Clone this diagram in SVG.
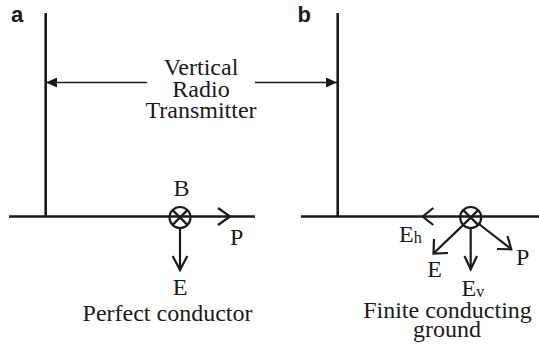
<svg xmlns="http://www.w3.org/2000/svg" width="539" height="347" viewBox="0 0 539 347">
<style>
.bg{fill:#fff}
.thick{stroke:#1a1a1a;stroke-width:2.6;fill:none}
.arr{stroke:#1a1a1a;stroke-width:2.2;fill:none;stroke-linecap:butt;stroke-linejoin:miter}
.thin{stroke:#1a1a1a;stroke-width:1.3;fill:none}
.t{font-family:"Liberation Serif","Times New Roman",serif;font-size:24px;fill:#1a1a1a}
.sub{font-family:"Liberation Serif","Times New Roman",serif;font-size:16px;fill:#1a1a1a}
.lbl{font-family:"Liberation Sans",Arial,sans-serif;font-size:22px;font-weight:bold;fill:#1a1a1a}
</style>
<defs>
<marker id="fa" viewBox="0 0 11 10" refX="11" refY="5" markerWidth="11" markerHeight="10" markerUnits="userSpaceOnUse" orient="auto">
<path d="M0 0 L11 5 L0 10 Z" fill="#1a1a1a"/>
</marker>
</defs>
<rect class="bg" x="0" y="0" width="539" height="347"/>
<g id="panel-a">
<text class="lbl" x="11" y="22">a</text>
<path class="thick" d="M45.7 13 V216.5"/>
<path class="thick" d="M9 216.5 H255"/>
<g id="B-symbol-a">
<circle class="arr" cx="180" cy="217.5" r="10.5"/>
<path class="arr" d="M172.6 210.1 L187.4 224.9 M187.4 210.1 L172.6 224.9"/>
</g>
<text class="t" x="181.5" y="196" text-anchor="middle">B</text>
<text class="t" x="230" y="245">P</text>
<text class="t" x="180" y="295" text-anchor="middle">E</text>
<text class="t" x="167.5" y="320.7" text-anchor="middle">Perfect conductor</text>
</g>
<g id="transmitter-label">
<text class="t" text-anchor="middle"><tspan x="201" y="75">Vertical</tspan><tspan x="201" y="96.7">Radio</tspan><tspan x="201" y="118">Transmitter</tspan></text>
</g>
<g id="panel-b">
<text class="lbl" x="297.5" y="22">b</text>
<path class="thick" d="M337.7 13 V216.5"/>
<path class="thick" d="M301 216.5 H539"/>
<g id="B-symbol-b">
<circle class="arr" cx="470.7" cy="217.5" r="10.5"/>
<path class="arr" d="M463.3 210.1 L478.1 224.9 M478.1 210.1 L463.3 224.9"/>
</g>
<text class="t" x="399" y="241.7">E<tspan class="sub" dy="1.3">h</tspan></text>
<text class="t" x="434.7" y="276.7" text-anchor="middle">E</text>
<text class="t" x="461.5" y="296">E<tspan class="sub" dy="1">v</tspan></text>
<text class="t" x="516" y="265">P</text>
<text class="t" text-anchor="middle"><tspan x="447.5" y="318.3">Finite conducting</tspan><tspan x="447" y="336.7">ground</tspan></text>
</g>
<g id="connectors">
<path class="thin" d="M147 82.5 H46" marker-end="url(#fa)"/>
<path class="thin" d="M255 82.5 H337" marker-end="url(#fa)"/>
<path class="arr" d="M218 208 L230 216.5 L218 225"/>
<path class="arr" d="M180 228 V269"/>
<path class="arr" d="M172.7 256 L180 270 L187.3 256"/>
<path class="arr" d="M433.3 208 L422.7 216.5 L433.3 225"/>
<path class="arr" d="M463.3 224.9 L434 253"/>
<path class="arr" d="M448 253 L433.5 253.5 L434 239"/>
<path class="arr" d="M470.7 228 V269"/>
<path class="arr" d="M464.5 256 L470.7 269.5 L477 256"/>
<path class="arr" d="M478.9 224 L511 249"/>
<path class="arr" d="M497 249 L511.3 249.3 L507.5 236"/>
</g>
</svg>
